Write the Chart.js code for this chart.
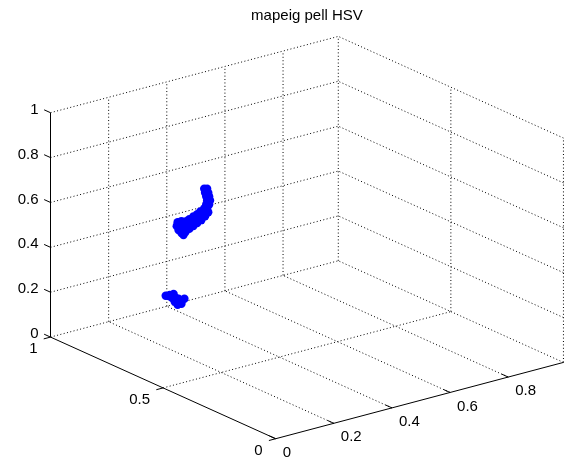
<!DOCTYPE html>
<html><head><meta charset="utf-8">
<script src="https://cdn.jsdelivr.net/npm/chart.js@4.4.1/dist/chart.umd.min.js"></script>
<style>html,body{margin:0;padding:0;background:#fff}#wrap{width:574px;height:466px}</style>
</head><body><div id="wrap"><canvas id="c" width="574" height="466"></canvas></div>
<script>
// ---- data (H, S, V of the plotted pixels) ----
const titleText = 'mapeig pell HSV';
const xTicks = [0, 0.2, 0.4, 0.6, 0.8];
const yTicks = [0, 0.5, 1];
const zTicks = [0, 0.2, 0.4, 0.6, 0.8, 1];
const xLim = [0, 0.99];
const yLim = [0, 1];
const zLim = [0, 1];
const hue = [0.05,0.05,0.05,0.05,0.05,0.05,0.05,0.05,0.05,0.05,0.05,0.05,0.05,0.05,0.05,0.05,0.05,0.05,0.05,0.05,0.05,0.05,0.05,0.05,0.05,0.05,0.05,0.05,0.05,0.05,0.05,0.05,0.05,
             0.05,0.05,0.05,0.05,0.05,0.05,0.05,0.05,0.05,0.05,
             0.04,0.04,0.04,0.04,0.04,0.04,0.04,0.04,0.04,0.04,0.04,0.04,0.04,0.04];
const sat = [0.382,0.369,0.378,0.364,0.373,0.360,0.369,0.356,0.373,0.360,0.382,0.369,0.399,0.382,0.413,0.395,0.430,0.413,0.448,0.430,0.461,0.443,0.500,0.483,0.504,0.487,0.469,0.496,0.478,0.461,0.483,0.465,0.474,
             0.492,0.474,0.456,0.439,0.364,0.378,0.395,0.413,0.430,0.448,
             0.540,0.522,0.505,0.513,0.496,0.483,0.500,0.483,0.470,0.487,0.470,0.527,0.492,0.457];
const val = [0.924,0.930,0.908,0.914,0.893,0.899,0.877,0.883,0.858,0.864,0.836,0.842,0.815,0.819,0.796,0.800,0.779,0.779,0.758,0.757,0.744,0.738,0.721,0.734,0.702,0.710,0.718,0.688,0.696,0.709,0.681,0.693,0.676,
             0.714,0.725,0.733,0.748,0.827,0.803,0.778,0.757,0.736,0.715,
             0.379,0.391,0.403,0.382,0.390,0.391,0.370,0.378,0.388,0.363,0.375,0.383,0.382,0.403];

// ---- 3-D view (orthographic projection of the plot box) ----
const view = { ox: 275.5, oy: 442.5, ex: [295, -78.5], ey: [-228.5, -103.5], ez: [0, -228.5] };
function proj(x, y, z) {
  return { x: view.ox + x * view.ex[0] + y * view.ey[0] + z * view.ez[0],
           y: view.oy + x * view.ex[1] + y * view.ey[1] + z * view.ez[1] };
}
const points = hue.map((h, i) => proj(h, sat[i], val[i]));

const box3d = {
  id: 'box3d',
  beforeDatasetsDraw(chart) {
    const ctx = chart.ctx, sx = chart.scales.x, sy = chart.scales.y;
    const P = (x, y, z) => { const p = proj(x, y, z); return [sx.getPixelForValue(p.x), sy.getPixelForValue(p.y)]; };
    const line = (a, b, dotted) => {
      ctx.save();
      ctx.beginPath();
      ctx.strokeStyle = '#000';
      ctx.lineWidth = 1;
      ctx.setLineDash(dotted ? [1, 2.4] : []);
      ctx.moveTo(a[0], a[1]); ctx.lineTo(b[0], b[1]);
      ctx.stroke();
      ctx.restore();
    };
    const [x0, x1] = xLim, [y0, y1] = yLim, [z0, z1] = zLim;
    // floor grid (z = 0)
    xTicks.filter(t => t > x0).concat([x1]).forEach(t => line(P(t, y0, z0), P(t, y1, z0), true));
    yTicks.filter(t => t > y0).forEach(t => line(P(x0, t, z0), P(x1, t, z0), true));
    // back wall y = max
    xTicks.filter(t => t > x0).concat([x1]).forEach(t => line(P(t, y1, z0), P(t, y1, z1), true));
    zTicks.filter(t => t > z0).forEach(t => line(P(x0, y1, t), P(x1, y1, t), true));
    // back wall x = max
    yTicks.filter(t => t < y1).forEach(t => line(P(x1, t, z0), P(x1, t, z1), true));
    zTicks.filter(t => t > z0).forEach(t => line(P(x1, y0, t), P(x1, y1, t), true));
    // axis lines
    line(P(x0, y1, z0), P(x0, y1, z1), false);
    line(P(x0, y0, z0), P(x0, y1, z0), false);
    line(P(x0, y0, z0), P(x1, y0, z0), false);
    // ticks and labels
    const tl = 7;
    const eyn = [view.ey[0], view.ey[1]]; const eyl = Math.hypot(eyn[0], eyn[1]);
    const exn = [view.ex[0], view.ex[1]]; const exl = Math.hypot(exn[0], exn[1]);
    ctx.save();
    ctx.fillStyle = '#000';
    ctx.font = '15px "Liberation Sans", Arial, sans-serif';
    ctx.textBaseline = 'middle';
    // z
    ctx.textAlign = 'right';
    zTicks.forEach(t => {
      const a = P(x0, y1, t);
      line(a, [a[0] + tl * eyn[0] / eyl, a[1] + tl * eyn[1] / eyl], false);
      ctx.fillText(String(t), a[0] - 12, a[1] - 3);
    });
    // y
    yTicks.forEach(t => {
      const a = P(x0, t, z0);
      line(a, [a[0] - tl * exn[0] / exl, a[1] - tl * exn[1] / exl], false);
      ctx.fillText(String(t), a[0] - 13, a[1] + 12);
    });
    // x
    ctx.textAlign = 'left';
    xTicks.forEach(t => {
      const a = P(t, y0, z0);
      line(a, [a[0] + tl * eyn[0] / eyl, a[1] + tl * eyn[1] / eyl], false);
      ctx.fillText(String(t), a[0] + 7, a[1] + 14);
    });
    // title
    const tc = (P(x0, y1, z0)[0] + P(x1, y0, z0)[0]) / 2;
    ctx.textAlign = 'center';
    ctx.fillText(titleText, tc, 16);
    ctx.restore();
  }
};

new Chart(document.getElementById('c'), {
  type: 'scatter',
  data: { datasets: [{ data: points, backgroundColor: '#0000ff', borderWidth: 0, pointRadius: 4.2, pointHoverRadius: 4.2 }] },
  options: {
    responsive: false, animation: false, devicePixelRatio: 1,
    layout: { padding: 0 },
    plugins: { legend: { display: false }, tooltip: { enabled: false }, title: { display: false } },
    scales: {
      x: { type: 'linear', min: 0, max: 574, display: false },
      y: { type: 'linear', min: 0, max: 466, reverse: true, display: false }
    }
  },
  plugins: [box3d]
});
</script>
</body></html>
